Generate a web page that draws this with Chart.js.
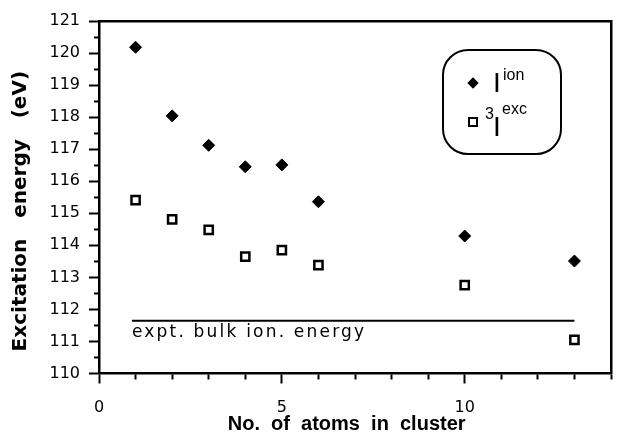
<!DOCTYPE html>
<html>
<head>
<meta charset="utf-8">
<script src="https://cdn.jsdelivr.net/npm/chart.js@4.4.1/dist/chart.umd.min.js"></script>
<style>
  body { margin: 0; background: #fff; }
  #wrap { position: relative; width: 626px; height: 437px; }
  #key { position: absolute; left: 442px; top: 49px; width: 120px; height: 106px; box-sizing: border-box; border: 2.5px solid #000; border-radius: 26px; }
  .t { position: absolute; font-family: 'Liberation Sans', Arial, sans-serif; color: #000; white-space: nowrap; line-height: 1; }
  .dia { position: absolute; left: 469px; top: 79px; width: 8px; height: 8px; background: #000; transform: rotate(45deg); }
  .sq { position: absolute; left: 468px; top: 117px; width: 10px; height: 10px; box-sizing: border-box; border: 2.5px solid #000; background: #fff; }
</style>
</head>
<body>
<div id="wrap">
  <canvas id="chart" width="626" height="437"></canvas>
  <div id="key"></div>
  <div class="dia"></div>
  <span class="t" style="left:493px;top:69px;font-size:28px">I</span>
  <span class="t" style="left:503px;top:67px;font-size:16px">ion</span>
  <div class="sq"></div>
  <span class="t" style="left:485px;top:106px;font-size:16px">3</span>
  <span class="t" style="left:493px;top:113px;font-size:28px">I</span>
  <span class="t" style="left:502px;top:101px;font-size:16px">exc</span>
</div>
<script>
// cluster size (number of atoms) and energies in eV
const clusterSizes = [1, 2, 3, 4, 5, 6, 10, 13]
const ionEnergy = [120.18, 118.04, 117.12, 116.45, 116.51, 115.36, 114.29, 113.51]
const excEnergy = [115.41, 114.81, 114.48, 113.65, 113.85, 113.38, 112.76, 111.05]

// experimental bulk ionisation energy, drawn as a flat line
const bulkIonEnergy = 111.65
const bulkLineRange = [0.9, 13]
const bulkLabelText = 'expt. bulk ion. energy'

const xRange = [0, 14]
const yRange = [110, 121]
const xTickLabels = [0, 5, 10]

const tickFont = { family: '"DejaVu Sans", sans-serif', size: 16 }

const bulkLabel = {
    id: 'bulkLabel',
    afterDatasetsDraw(chart) {
        const {ctx, scales} = chart
        const x = scales.x.getPixelForValue(bulkLineRange[0])
        const y = scales.y.getPixelForValue(bulkIonEnergy)
        ctx.save()
        ctx.font = '17px "DejaVu Sans", sans-serif'
        ctx.letterSpacing = '2.2px'
        ctx.fillStyle = '#000'
        ctx.textBaseline = 'alphabetic'
        ctx.fillText(bulkLabelText, x, y + 16)
        ctx.restore()
    }
}

let chart = new Chart(document.querySelector('#chart'), {
    type: 'scatter',
    data: {
        datasets: [
            {
                label: 'ion',
                data: clusterSizes.map((n, i) => ({x: n, y: ionEnergy[i]})),
                pointStyle: 'rectRot',
                pointRadius: 6,
                backgroundColor: '#000',
                borderColor: '#000',
                borderWidth: 1
            },
            {
                label: 'exc',
                data: clusterSizes.map((n, i) => ({x: n, y: excEnergy[i]})),
                pointStyle: 'rect',
                pointRadius: 5.8,
                backgroundColor: '#fff',
                borderColor: '#000',
                borderWidth: 2.5
            },
            {
                label: 'bulk',
                data: bulkLineRange.map(n => ({x: n, y: bulkIonEnergy})),
                showLine: true,
                pointRadius: 0,
                borderColor: '#000',
                borderWidth: 2
            }
        ]
    },
    options: {
        responsive: false,
        devicePixelRatio: 1,
        animation: false,
        layout: { padding: 0 },
        plugins: { legend: { display: false }, tooltip: { enabled: false } },
        scales: {
            x: {
                type: 'linear', position: 'bottom', min: xRange[0], max: xRange[1],
                afterFit: s => { s.height = 63.5 },
                border: { display: true, color: '#000', width: 2.5 },
                grid: {
                    drawOnChartArea: false, drawTicks: true, tickLength: 10, tickWidth: 2, tickColor: '#000',
                    tickBorderDash: c => c.tick && xTickLabels.includes(c.tick.value) ? [] : [5, 20]
                },
                ticks: {
                    stepSize: 1, autoSkip: false, maxRotation: 0, padding: 15, color: '#000', font: tickFont,
                    callback: v => xTickLabels.includes(v) ? String(v) : ''
                },
                title: {
                    // trailing spaces nudge the centred title left, as in the original
                    display: true, text: 'No.  of  atoms  in  cluster   ', color: '#000',
                    font: { family: '"Liberation Sans", Arial, sans-serif', size: 20, weight: 'bold' },
                    padding: { top: 0, bottom: 1 }
                }
            },
            y: {
                type: 'linear', position: 'left', min: yRange[0], max: yRange[1],
                afterFit: s => { s.width = 99 },
                border: { display: true, color: '#000', width: 2.5 },
                grid: {
                    drawOnChartArea: false, drawTicks: true, tickLength: 10, tickWidth: 2, tickColor: '#000',
                    tickBorderDash: c => c.tick && Number.isInteger(c.tick.value) ? [] : [0, 5, 20]
                },
                ticks: {
                    stepSize: 0.5, autoSkip: false, padding: 9, color: '#000', font: tickFont,
                    callback: v => Number.isInteger(v) ? String(v) : ''
                },
                title: {
                    display: true, text: 'Excitation   energy   (eV)    ', color: '#000',
                    font: { family: '"DejaVu Sans", sans-serif', size: 20, weight: 'bold' },
                    padding: { top: 9, bottom: 0 }
                }
            },
            xTop: {
                type: 'linear', axis: 'x', position: 'top', display: true,
                afterFit: s => { s.height = 21 },
                border: { display: true, color: '#000', width: 2.5 },
                grid: { display: false, drawTicks: false },
                ticks: { display: false }
            },
            yRight: {
                type: 'linear', axis: 'y', position: 'right', display: true,
                afterFit: s => { s.width = 1 },
                border: { display: true, color: '#000', width: 2.5 },
                grid: { display: false, drawTicks: false },
                ticks: { display: false }
            }
        }
    },
    plugins: [bulkLabel]
})
</script>
</body>
</html>
